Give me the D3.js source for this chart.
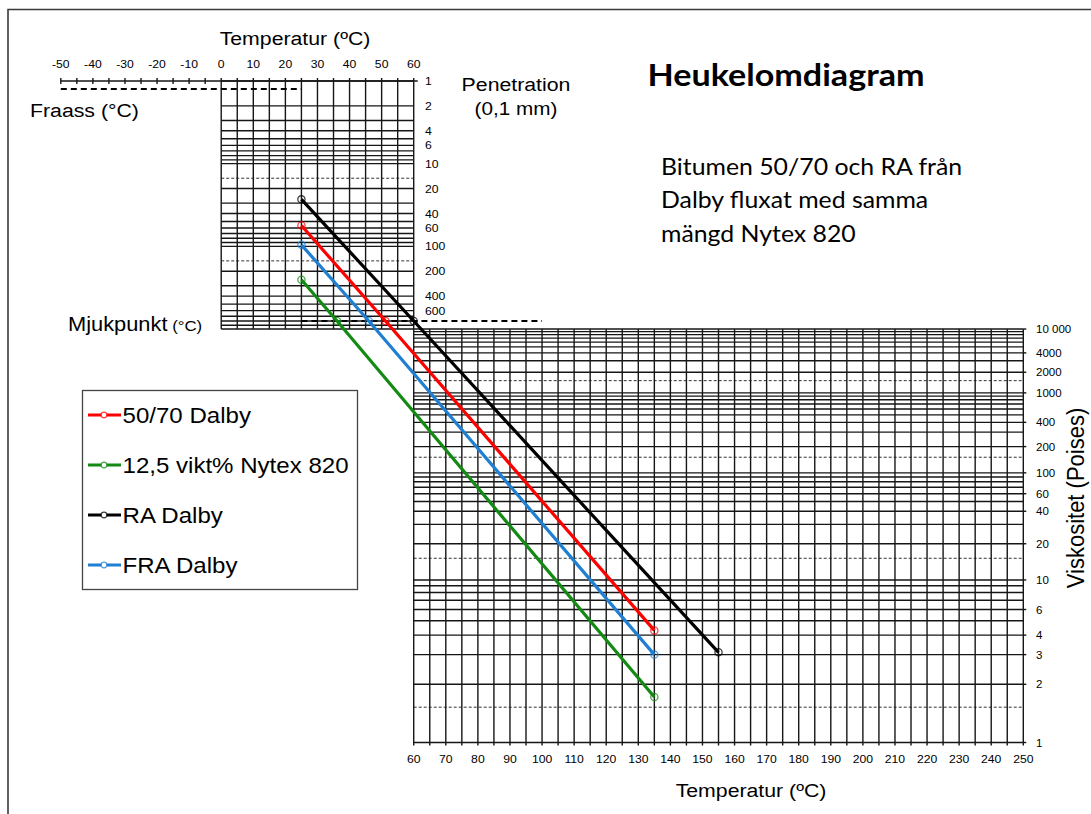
<!DOCTYPE html>
<html>
<head>
<meta charset="utf-8">
<script src="https://cdn.jsdelivr.net/npm/d3@7"></script>
<style>
  html, body { margin: 0; padding: 0; background: #fff; }
  svg { display: block; }
</style>
</head>
<body>
<svg id="chart" width="1091" height="814"></svg>
<script>
// ---- Data: one entry per bitumen sample ----
const seriesNames   = ["50/70 Dalby", "12,5 vikt% Nytex 820", "RA Dalby", "FRA Dalby"];
const seriesColors  = ["#ff0000", "#138a13", "#000000", "#1f7fd2"];
const penAt25       = [56, 254, 27, 96];        // penetration at 25 °C (0,1 mm)
const softeningTemp = [51.2, 36.1, 60.0, 46.0]; // ring & ball softening point (°C)
const viscTemp      = [135, 135, 155, 135];     // temperature of viscosity reading (°C)
const viscValue     = [4.3, 1.7, 3.1, 3.0];     // viscosity (Poises)

// ---- Axis tick labels ----
const topTempTicks    = [-50, -40, -30, -20, -10, 0, 10, 20, 30, 40, 50, 60];
const bottomTempTicks = [60, 70, 80, 90, 100, 110, 120, 130, 140, 150, 160, 170, 180, 190, 200, 210, 220, 230, 240, 250];
const penTicks        = [1, 2, 4, 6, 10, 20, 40, 60, 100, 200, 400, 600];
const viscTicks       = [10000, 4000, 2000, 1000, 400, 200, 100, 60, 40, 20, 10, 6, 4, 3, 2, 1];
const viscTickText    = ["10 000", "4000", "2000", "1000", "400", "200", "100", "60", "40", "20", "10", "6", "4", "3", "2", "1"];

// Reference penetrations of the Heukelom chart
const fraassPen = 1.25;
const softPen = 800;

const svg = d3.select("#chart");
const SX = 1.12;              // horizontal text stretch
const ARIAL = "'Liberation Sans', Arial, sans-serif";
const CALIBRI = "Lato, 'Open Sans', sans-serif";

// ---- Scales ----
const x = d3.scaleLinear().domain([-50, 250]).range([60.8, 1023.3]);
const yPen = d3.scaleLog().domain([1, 1000]).range([81, 329]);
// Viscosity scale: linear in log(log(eta) + 1.5)
const vt = v => Math.log10(Math.log10(v) + 1.5);
const yVlin = d3.scaleLinear().domain([vt(1), vt(10000)]).range([742.5, 329]);
const yVisc = v => yVlin(vt(v));

// ---- Helpers ----
function txt(px, py, str, opt = {}) {
  const g = svg.append("g")
    .attr("transform", `translate(${px},${py})${opt.rotate ? ` rotate(${opt.rotate}) scale(1,${opt.sx ?? SX})` : ` scale(${opt.sx ?? SX},1)`}`);
  const t = g.append("text")
    .attr("text-anchor", opt.anchor || "start")
    .attr("font-family", opt.family || ARIAL)
    .attr("font-size", opt.size || 12)
    .attr("font-weight", opt.weight || "normal")
    .attr("fill", opt.fill || "#000");
  if (opt.dy) t.attr("dy", opt.dy);
  t.text(str);
  return t;
}

const gridColor = "#161616";
const gridW = 1.4;

// decade grid values (1..9 per decade)
function decadeGrid(lo, hi) {
  const out = [];
  for (let d = lo; d < hi; d *= 10) for (let k = 1; k < 10; k++) out.push(k * d);
  out.push(hi);
  return out;
}

// ================= Penetration panel (top) =================
const gTop = svg.append("g");
const penGrid = decadeGrid(1, 1000);
const penDashed = [15, 150];
const topTempGrid = d3.range(0, 61, 5);

gTop.selectAll("line.ph").data(penGrid).join("line")
  .attr("x1", x(0)).attr("x2", x(60))
  .attr("y1", d => yPen(d)).attr("y2", d => yPen(d))
  .attr("stroke", gridColor).attr("stroke-width", gridW);
gTop.selectAll("line.pd").data(penDashed).join("line")
  .attr("x1", x(0)).attr("x2", x(60))
  .attr("y1", d => yPen(d)).attr("y2", d => yPen(d))
  .attr("stroke", "#333").attr("stroke-width", 1).attr("stroke-dasharray", "3,2");
gTop.selectAll("line.pv").data(topTempGrid).join("line")
  .attr("x1", d => x(d)).attr("x2", d => x(d))
  .attr("y1", yPen(1) - 3).attr("y2", yPen(1000))
  .attr("stroke", gridColor).attr("stroke-width", gridW);

// top temperature axis (-50 .. 60)
gTop.append("line")
  .attr("x1", x(-50)).attr("x2", x(60) + 4)
  .attr("y1", yPen(1)).attr("y2", yPen(1))
  .attr("stroke", gridColor).attr("stroke-width", gridW);
gTop.selectAll("line.tt").data(d3.range(-50, 0, 5)).join("line")
  .attr("x1", d => x(d)).attr("x2", d => x(d))
  .attr("y1", yPen(1) - 3).attr("y2", yPen(1) + 3)
  .attr("stroke", gridColor).attr("stroke-width", gridW);
topTempTicks.forEach(t => txt(x(t), 68, String(t), { size: 11.5, anchor: "middle", sx: 1.06 }));
penTicks.forEach(p => txt(425, yPen(p), String(p), { size: 11.5, dy: "0.36em", sx: 1.06 }));

// ================= Viscosity panel (bottom) =================
const gBot = svg.append("g");
const viscGrid = decadeGrid(1, 10000);
const viscDashed = [1.5, 15, 150, 1500];
const botTempGrid = d3.range(60, 251, 5);

gBot.selectAll("line.vh").data(viscGrid).join("line")
  .attr("x1", x(60)).attr("x2", x(250))
  .attr("y1", d => yVisc(d)).attr("y2", d => yVisc(d))
  .attr("stroke", gridColor).attr("stroke-width", gridW);
gBot.selectAll("line.vd").data(viscDashed).join("line")
  .attr("x1", x(60)).attr("x2", x(250))
  .attr("y1", d => yVisc(d)).attr("y2", d => yVisc(d))
  .attr("stroke", "#333").attr("stroke-width", 1).attr("stroke-dasharray", "3,2");
gBot.selectAll("line.vv").data(botTempGrid).join("line")
  .attr("x1", d => x(d)).attr("x2", d => x(d))
  .attr("y1", yVisc(10000)).attr("y2", yVisc(1) + 3)
  .attr("stroke", gridColor).attr("stroke-width", gridW);
gBot.selectAll("line.vt").data(viscTicks).join("line")
  .attr("x1", x(250)).attr("x2", x(250) + 3)
  .attr("y1", d => yVisc(d)).attr("y2", d => yVisc(d))
  .attr("stroke", gridColor).attr("stroke-width", gridW);
bottomTempTicks.forEach(t => txt(x(t), 763, String(t), { size: 11.5, anchor: "middle", sx: 1.06 }));
viscTicks.forEach((v, i) => txt(1036, yVisc(v), viscTickText[i], { size: 11.5, dy: "0.36em", sx: 1.0 }));

// ================= Fraass and softening-point reference lines =================
svg.append("line")
  .attr("x1", x(-50)).attr("x2", x(25))
  .attr("y1", yPen(fraassPen)).attr("y2", yPen(fraassPen))
  .attr("stroke", "#000").attr("stroke-width", 2).attr("stroke-dasharray", "6,4");
svg.append("line")
  .attr("x1", x(25)).attr("x2", x(100))
  .attr("y1", yPen(softPen)).attr("y2", yPen(softPen))
  .attr("stroke", "#000").attr("stroke-width", 2).attr("stroke-dasharray", "6,4");

// ================= Sample lines =================
const samples = seriesNames.map((name, i) => ({
  name, color: seriesColors[i],
  pts: [
    [x(25), yPen(penAt25[i])],
    [x(softeningTemp[i]), yPen(softPen)],
    [x(viscTemp[i]), yVisc(viscValue[i])]
  ]
}));
const gLines = svg.append("g");
samples.forEach(s => {
  gLines.append("path")
    .attr("d", d3.line()(s.pts))
    .attr("fill", "none").attr("stroke", s.color).attr("stroke-width", 3.2);
  gLines.selectAll(null).data(s.pts).join("circle")
    .attr("cx", d => d[0]).attr("cy", d => d[1]).attr("r", 3.6)
    .attr("fill", "none").attr("stroke", s.color).attr("stroke-opacity", 0.75).attr("stroke-width", 1.3);
});

// ================= Legend =================
const leg = svg.append("g");
leg.append("rect").attr("x", 82.5).attr("y", 390.5).attr("width", 275).attr("height", 199)
  .attr("fill", "#fff").attr("stroke", "#444").attr("stroke-width", 1.3);
seriesNames.forEach((name, i) => {
  const cy = 415 + i * 50;
  leg.append("line").attr("x1", 88).attr("x2", 121).attr("y1", cy).attr("y2", cy)
    .attr("stroke", seriesColors[i]).attr("stroke-width", 3.2);
  leg.append("circle").attr("cx", 104).attr("cy", cy).attr("r", 2.8)
    .attr("fill", "#fff").attr("stroke", seriesColors[i]).attr("stroke-opacity", 0.75).attr("stroke-width", 1.2);
  txt(122.5, cy + 7.6, name, { size: 21.5, sx: 1.12 });
});

// ================= Titles and axis captions =================
txt(295, 45, "Temperatur (ºC)", { size: 19, anchor: "middle" });
txt(751, 797, "Temperatur (ºC)", { size: 19, anchor: "middle" });
txt(30, 117, "Fraass (°C)", { size: 19 });
txt(516, 91, "Penetration", { size: 19, anchor: "middle" });
txt(516, 115, "(0,1 mm)", { size: 18.5, anchor: "middle" });
const mj = txt(68, 331, "Mjukpunkt", { size: 19.5 });
mj.append("tspan").attr("font-size", 15).text(" (°C)");
txt(1084, 498, "Viskositet (Poises)", { size: 22, anchor: "middle", rotate: -90, sx: 1.06 });

txt(786, 86, "Heukelomdiagram", { size: 31, anchor: "middle", weight: "bold", family: CALIBRI, sx: 1.1 });
["Bitumen 50/70 och RA från", "Dalby fluxat med samma", "mängd Nytex 820"].forEach((l, i) =>
  txt(661, 175 + i * 33.3, l, { size: 23, family: CALIBRI, sx: 1.08 }));

// ================= Outer frame =================
svg.append("path").attr("d", "M8,814 V9.5 H1091")
  .attr("fill", "none").attr("stroke", "#3a3a3a").attr("stroke-width", 1.6);
</script>
</body>
</html>
